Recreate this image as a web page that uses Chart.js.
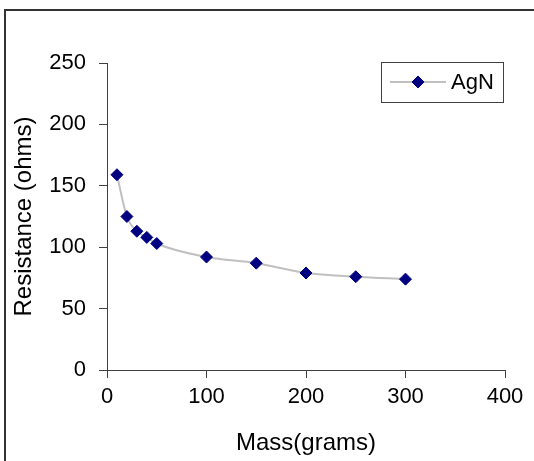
<!DOCTYPE html>
<html>
<head>
<meta charset="utf-8">
<script src="https://cdn.jsdelivr.net/npm/chart.js@4/dist/chart.umd.min.js"></script>
<style>
    html, body { margin: 0; padding: 0; background: #fff; }
    body { width: 534px; height: 461px; position: relative; overflow: hidden; }
    .frame { position: absolute; left: 4px; top: 9px; width: 600px; height: 600px; border-left: 2px solid #333; border-top: 2px solid #333; }
    .wrap { position: absolute; left: 0; top: 0; width: 534px; height: 461px; }
</style>
</head>
<body>
<div class="frame"></div>
<div class="wrap"><canvas id="massChart"></canvas></div>
<script>
    const seriesName = 'AgN';
    const massGrams = [10, 20, 30, 40, 50, 100, 150, 200, 250, 300];
    const resistanceOhms = [159, 125, 113, 108, 103, 92, 87, 79, 76, 74];
    const xTicks = [0, 100, 200, 300, 400];
    const yTicks = [0, 50, 100, 150, 200, 250];

    const fontFamily = "'Liberation Sans', Arial, sans-serif";
    const axisColor = '#404040';
    const markerColor = '#000080';
    const lineColor = '#c0c0c0';

    Chart.defaults.font.family = fontFamily;
    Chart.defaults.color = '#000';

    // legend box drawn inside the plot, top right
    const boxLegend = {
        id: 'boxLegend',
        afterDraw(chart) {
            const ctx = chart.ctx;
            const x0 = 381, y0 = 62, w = 122, h = 40;
            const cy = y0 + h / 2;
            ctx.save();
            ctx.fillStyle = '#fff';
            ctx.fillRect(x0, y0, w, h);
            ctx.strokeStyle = axisColor;
            ctx.lineWidth = 1;
            ctx.strokeRect(x0 + 0.5, y0 + 0.5, w, h);
            ctx.strokeStyle = lineColor;
            ctx.lineWidth = 2;
            ctx.beginPath();
            ctx.moveTo(390, cy);
            ctx.lineTo(446, cy);
            ctx.stroke();
            ctx.fillStyle = markerColor;
            ctx.strokeStyle = markerColor;
            ctx.lineWidth = 1;
            Chart.helpers.drawPoint(ctx, { pointStyle: 'rectRot', radius: 6, borderWidth: 1 }, 418, cy);
            ctx.fillStyle = '#000';
            ctx.font = '22px ' + fontFamily;
            ctx.textBaseline = 'middle';
            ctx.textAlign = 'left';
            ctx.fillText(seriesName, 451, cy + 1);
            ctx.restore();
        }
    };

    new Chart(document.getElementById('massChart'), {
        type: 'scatter',
        data: {
            datasets: [{
                label: seriesName,
                data: massGrams.map((m, i) => ({ x: m, y: resistanceOhms[i] })),
                showLine: true,
                borderColor: lineColor,
                borderWidth: 2,
                cubicInterpolationMode: 'monotone',
                pointStyle: 'rectRot',
                pointRadius: 6,
                pointHoverRadius: 6,
                pointBackgroundColor: markerColor,
                pointBorderColor: markerColor,
                pointBorderWidth: 1
            }]
        },
        plugins: [boxLegend],
        options: {
            responsive: true,
            maintainAspectRatio: false,
            animation: false,
            layout: { padding: { left: 10, right: 29, top: 63, bottom: 0 } },
            plugins: { legend: { display: false }, tooltip: { enabled: false } },
            scales: {
                x: {
                    type: 'linear',
                    min: 0,
                    max: 400,
                    afterBuildTicks: (scale) => { scale.ticks = xTicks.map(v => ({ value: v })); },
                    afterFit: (scale) => { scale.height = 91; },
                    grid: { drawOnChartArea: false, drawTicks: true, tickLength: 8, color: axisColor },
                    border: { color: axisColor },
                    ticks: { font: { size: 22 }, padding: 6, maxRotation: 0 },
                    title: { display: true, text: 'Mass(grams)', font: { size: 24 }, padding: { top: 0, bottom: 3 } }
                },
                y: {
                    min: 0,
                    max: 250,
                    afterBuildTicks: (scale) => { scale.ticks = yTicks.map(v => ({ value: v })); },
                    afterFit: (scale) => { scale.width = 97; },
                    grid: { drawOnChartArea: false, drawTicks: true, tickLength: 8, color: axisColor },
                    border: { color: axisColor },
                    ticks: { font: { size: 22 }, padding: 13 },
                    title: { display: true, text: 'Resistance (ohms)', font: { size: 24 }, padding: { top: 0, bottom: 0 } }
                }
            }
        }
    });
</script>
</body>
</html>
